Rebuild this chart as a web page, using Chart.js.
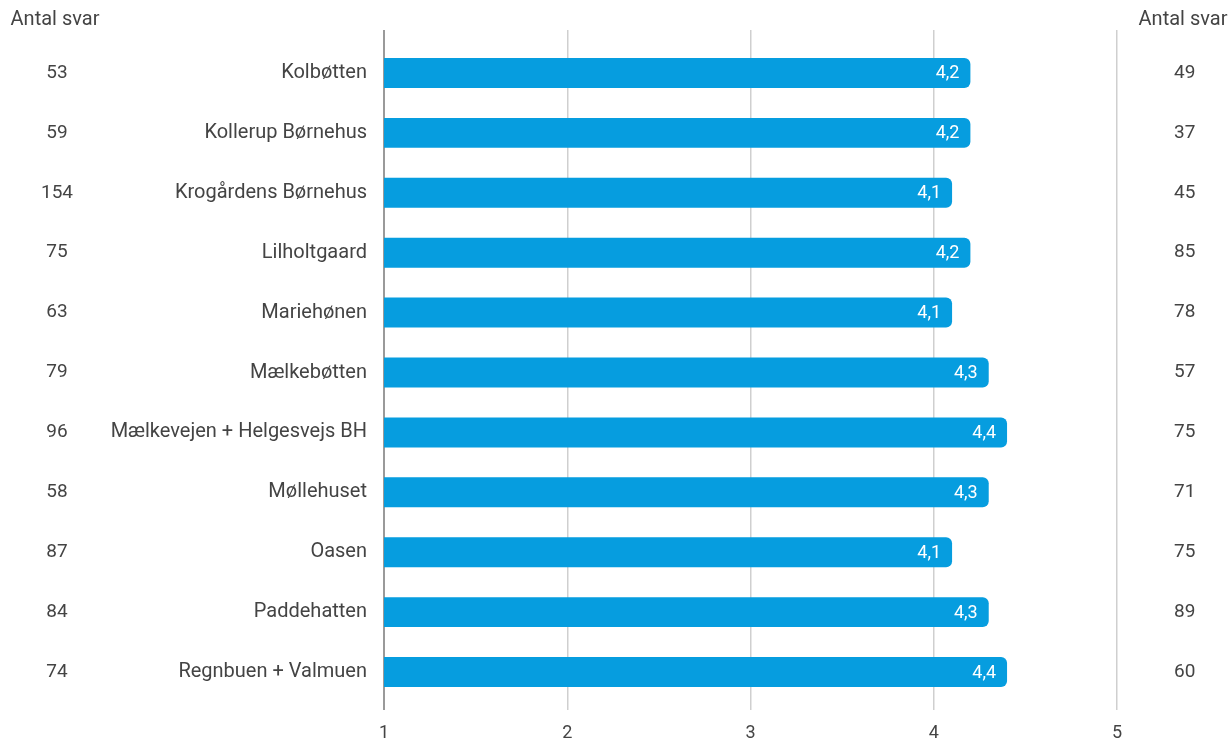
<!DOCTYPE html>
<html>
<head>
<meta charset="utf-8">
<script src="https://cdn.jsdelivr.net/npm/chart.js@4/dist/chart.umd.min.js"></script>
<style>
  html, body { margin: 0; padding: 0; background: #fff; }
  #wrap { position: relative; width: 1230px; height: 743px; }
  .head { position: absolute; top: 6px; font: 20px Roboto, sans-serif; color: #444; width: 130px; text-align: center; }
</style>
</head>
<body>
<div id="wrap">
  <canvas id="chart" width="1230" height="743"></canvas>
  <div class="head" style="left:-10px">Antal svar</div>
  <div class="head" style="left:1118px">Antal svar</div>
</div>
<script>
// Institution scores (1-5) with number of answers on each side
const names = ['Kolbøtten', 'Kollerup Børnehus', 'Krogårdens Børnehus', 'Lilholtgaard', 'Mariehønen',
  'Mælkebøtten', 'Mælkevejen + Helgesvejs BH', 'Møllehuset', 'Oasen', 'Paddehatten', 'Regnbuen + Valmuen'];
const scores = [4.2, 4.2, 4.1, 4.2, 4.1, 4.3, 4.4, 4.3, 4.1, 4.3, 4.4];
const answersLeft = ['53', '59', '154', '75', '63', '79', '96', '58', '87', '84', '74'];
const answersRight = ['49', '37', '45', '85', '78', '57', '75', '71', '75', '89', '60'];
const xTicks = [1, 2, 3, 4, 5];

const FONT = { family: 'Roboto', size: 19 };
const TEXT = '#444';

// keep the side axes from pushing the chart area around
const noPad = (s) => { s.paddingTop = 0; s.paddingBottom = 0; s.paddingLeft = 0; s.paddingRight = 0; };

// white value labels inside the bar ends
const valueLabels = {
  id: 'valueLabels',
  afterDatasetsDraw(chart) {
    const ctx = chart.ctx;
    const meta = chart.getDatasetMeta(0);
    ctx.save();
    ctx.font = '18px Roboto';
    ctx.fillStyle = '#fff';
    ctx.textAlign = 'right';
    ctx.textBaseline = 'middle';
    meta.data.forEach((bar, i) => {
      ctx.fillText(scores[i].toFixed(1).replace('.', ','), bar.x - 11, bar.y + 1);
    });
    ctx.restore();
  }
};

const gridColor = c => c.tick && c.tick.value === 1 ? '#9a9a9a' : '#cfcfcf';
const gridWidth = c => c.tick && c.tick.value === 1 ? 2 : 1.5;

new Chart(document.getElementById('chart'), {
  type: 'bar',
  data: {
    labels: names,
    datasets: [{
      data: scores,
      backgroundColor: '#069ddf',
      borderRadius: 6,
      borderSkipped: 'start',
      barPercentage: 0.5,
      categoryPercentage: 1
    }]
  },
  options: {
    indexAxis: 'y',
    responsive: false,
    animation: false,
    layout: { padding: { top: 30, left: 0, right: 0, bottom: 0 } },
    plugins: { legend: { display: false }, tooltip: { enabled: false } },
    scales: {
      x: {
        type: 'linear', position: 'bottom', min: 1, max: 5,
        afterBuildTicks: s => { s.ticks = xTicks.map(v => ({ value: v })); },
        grid: { color: gridColor, lineWidth: gridWidth, tickLength: 8 },
        border: { display: false },
        ticks: { color: TEXT, font: { family: 'Roboto', size: 18 }, padding: 13 },
        afterFit: s => { s.height = 41; noPad(s); }
      },
      xTop: {
        type: 'linear', position: 'top', min: 1, max: 5,
        afterBuildTicks: s => { s.ticks = xTicks.map(v => ({ value: v })); },
        grid: { drawOnChartArea: false, color: gridColor, lineWidth: gridWidth, tickLength: 13 },
        border: { display: false },
        ticks: { display: false },
        afterFit: s => { s.height = 13; noPad(s); }
      },
      y: {
        type: 'category', position: 'left', weight: 0,
        grid: { display: false, drawTicks: false },
        border: { display: false },
        ticks: { color: TEXT, font: { family: 'Roboto', size: 20 }, padding: 17, autoSkip: false },
        afterFit: s => { s.width = 289; noPad(s); }
      },
      yLeft: {
        type: 'category', position: 'left', weight: 10, labels: answersLeft,
        grid: { display: false, drawTicks: false },
        border: { display: false },
        ticks: { color: TEXT, font: FONT, padding: 22, crossAlign: 'center', autoSkip: false },
        afterFit: s => { s.width = 95; noPad(s); }
      },
      yRight: {
        type: 'category', position: 'right', labels: answersRight,
        grid: { display: false, drawTicks: false },
        border: { display: false },
        ticks: { color: TEXT, font: FONT, padding: 57, crossAlign: 'center', autoSkip: false },
        afterFit: s => { s.width = 113; noPad(s); }
      }
    }
  },
  plugins: [valueLabels]
});
</script>
</body>
</html>
